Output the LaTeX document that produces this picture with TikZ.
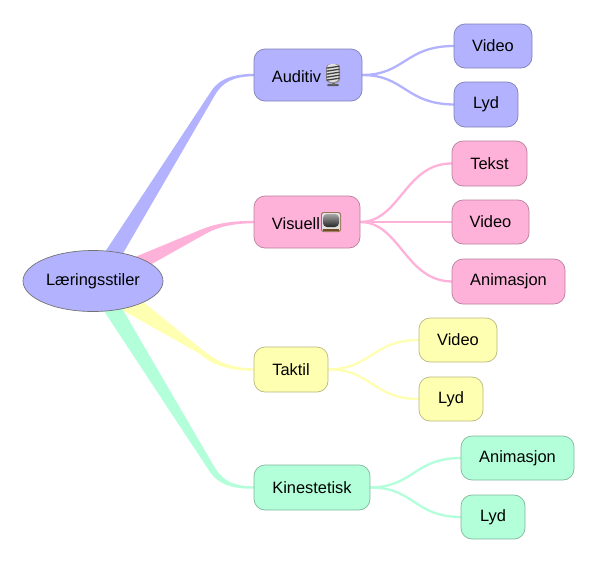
\documentclass[tikz,border=0pt]{standalone}
\usepackage{fontspec}
\setmainfont{Liberation Sans}
\usetikzlibrary{backgrounds,calc,shapes.geometric}
\definecolor{cblue}{HTML}{B2B2FF}
\definecolor{cpink}{HTML}{FFB2D9}
\definecolor{cyel}{HTML}{FFFFB2}
\definecolor{cgreen}{HTML}{B2FFD9}
\tikzset{
  x=1pt,y=-1pt,
  every node/.style={font=\fontsize{16.4}{18}\selectfont,text=black,inner sep=0pt,outer sep=0pt},
  mapbox/.style={draw=#1!72!black,fill=#1,rounded corners=11pt,line width=0.7pt},
  twig/.style={draw=#1,line width=2.3pt},
}
\newcommand{\mapnode}[7]{% name, color, x0, y0, x1, y1, text
  \node[mapbox=#2,minimum width=#5pt-#3pt,minimum height=#6pt-#4pt] (#1) at ({(#3+#5)/2},{(#4+#6)/2}) {#7};}
\begin{document}
\begin{tikzpicture}
\useasboundingbox (0,0) rectangle (598,563);
\node[ellipse,draw=black!55,fill=cblue,line width=0.7pt,minimum width=140pt,minimum height=61pt] (root) at (93,281) {Læringsstiler};
\mapnode{aud}{cblue}{254}{49}{362}{101}{\rule{0pt}{15pt}Auditiv\kern23pt}
\mapnode{vis}{cpink}{254}{196}{360}{248}{\rule{0pt}{15pt}Visuell\kern22pt}
\mapnode{tak}{cyel}{254}{347}{328}{392}{Taktil}
\mapnode{kin}{cgreen}{254}{465}{370}{510}{Kinestetisk}
\mapnode{a1}{cblue}{454}{24}{532}{68}{Video}
\mapnode{a2}{cblue}{454}{82}{518}{127}{Lyd}
\mapnode{v1}{cpink}{452}{141}{527}{186}{Tekst}
\mapnode{v2}{cpink}{452}{200}{529}{244}{Video}
\mapnode{v3}{cpink}{452}{259}{565}{304}{Animasjon}
\mapnode{t1}{cyel}{419}{318}{497}{362}{Video}
\mapnode{t2}{cyel}{419}{377}{483}{421}{Lyd}
\mapnode{k1}{cgreen}{461}{436}{574}{480}{Animasjon}
\mapnode{k2}{cgreen}{461}{495}{525}{539}{Lyd}
% icons
\begin{scope}[shift={(aud.center)},xshift=25pt]
  \fill[black!65,rounded corners=1pt] (-6,9) rectangle (6,11);
  \fill[black!60] (-1.5,6) rectangle (1.5,10);
  \fill[black!45,rounded corners=4pt] (-7,-11) rectangle (7,8);
  \fill[black!12,rounded corners=4pt] (-6,-11) rectangle (5.5,7);
  \foreach \yy in {-8,-5,-2,1,4}
    \draw[black!75,line width=1.3pt] (-6.5,\yy+1.2) -- (6.5,\yy-0.8);
\end{scope}
\begin{scope}[shift={(vis.center)},xshift=24pt]
  \fill[brown!65!black!80,rounded corners=2.5pt] (-10,-10) rectangle (10,10);
  \fill[black!12,rounded corners=2pt] (-9,-9) rectangle (9,9);
  \shade[top color=black!35,bottom color=black!85,rounded corners=4pt] (-8,-8) rectangle (8,5);
  \fill[brown!60!black] (-8,6.5) rectangle (8,9);
\end{scope}
% branches
\begin{scope}[on background layer]
  \fill[cblue] (105,252) -- (210,93) .. controls (216,83) and (226,74) .. ($(aud.west)+(0,-1.2)$)
     -- ($(aud.west)+(0,1.2)$) .. controls (232,76.5) and (222,83) .. (215,95) -- (122,255) -- cycle;
  \fill[cpink] (135,257) -- (200,230) .. controls (217,223) and (232,221) .. ($(vis.west)+(0,-1.2)$)
     -- ($(vis.west)+(0,1.2)$) .. controls (235,223.5) and (220,226) .. (207,233) -- (150,265) -- cycle;
  \fill[cyel] (132,293) -- (204,351) .. controls (218,362) and (232,368.3) .. ($(tak.west)+(0,-1.2)$)
     -- ($(tak.west)+(0,1.2)$) .. controls (232,371) and (213,366) .. (200,354) -- (115,306) -- cycle;
  \fill[cgreen] (120,305) -- (215,468) .. controls (224,482) and (235,486.3) .. ($(kin.west)+(0,-1.2)$)
     -- ($(kin.west)+(0,1.2)$) .. controls (232,489) and (218,484) .. (210,472) -- (100,305) -- cycle;
  \draw[twig=cblue] (aud.east) .. controls (405,75) and (405,46) .. (a1.west);
  \draw[twig=cblue] (aud.east) .. controls (405,75) and (405,104) .. (a2.west);
  \draw[twig=cpink] (vis.east) .. controls (400,222) and (405,163) .. (v1.west);
  \draw[twig=cpink] (vis.east) -- (v2.west);
  \draw[twig=cpink] (vis.east) .. controls (400,222) and (405,281) .. (v3.west);
  \draw[twig=cyel] (tak.east) .. controls (372,369) and (372,340) .. (t1.west);
  \draw[twig=cyel] (tak.east) .. controls (372,369) and (372,399) .. (t2.west);
  \draw[twig=cgreen] (kin.east) .. controls (414,487) and (414,458) .. (k1.west);
  \draw[twig=cgreen] (kin.east) .. controls (414,487) and (414,517) .. (k2.west);
\end{scope}
\end{tikzpicture}
\end{document}
